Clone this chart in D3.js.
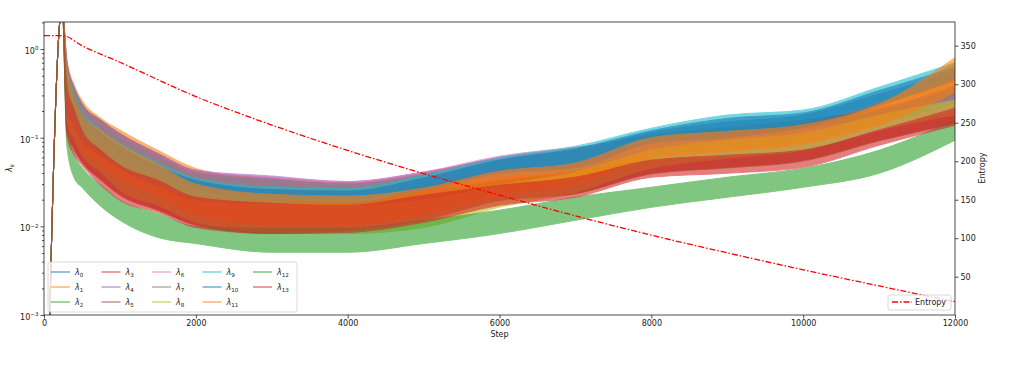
<!DOCTYPE html>
<html><head><meta charset="utf-8">
<script src="https://cdn.jsdelivr.net/npm/d3@7"></script>
<style>body{margin:0;background:#fff} text{font-family:"DejaVu Sans",sans-serif;fill:#222}</style>
</head><body>
<svg id="chart" width="1019" height="369"></svg>
<script>
// ---------- data ----------
const steps = [0,240,300,400,500,750,1000,1500,2000,3000,4000,5000,6000,7000,8000,9000,10000,11000,12000];

const lam0Hi  = [1.2e-6,3,0.50,0.28,0.18,0.11,0.078,0.047,0.032,0.025,0.024,0.034,0.054,0.070,0.115,0.150,0.180,0.310,0.55];
const lam0Lo  = [1.2e-6,3,0.19,0.13,0.09,0.060,0.043,0.028,0.019,0.0175,0.0175,0.024,0.038,0.044,0.082,0.095,0.125,0.220,0.40];
const lam1Hi  = [1.2e-6,3,0.79,0.39,0.265,0.166,0.122,0.072,0.045,0.033,0.028,0.031,0.046,0.056,0.107,0.122,0.146,0.25,0.70];
const lam1Lo  = [1.2e-6,3,0.27,0.16,0.107,0.072,0.049,0.027,0.014,0.011,0.011,0.014,0.024,0.031,0.060,0.072,0.087,0.146,0.30];
const lam2Hi  = [1.2e-6,3,0.42,0.22,0.13,0.078,0.053,0.036,0.0215,0.019,0.0178,0.024,0.033,0.041,0.068,0.082,0.090,0.150,0.235];
const lam2Lo  = [1.2e-6,3,0.125,0.075,0.054,0.034,0.023,0.0155,0.0105,0.0086,0.0092,0.0120,0.0195,0.0232,0.0390,0.0455,0.0545,0.0920,0.145];
const lam3Hi  = [1.2e-6,3,0.446,0.233,0.138,0.0822,0.0557,0.0377,0.0224,0.0197,0.0182,0.0255,0.0358,0.043,0.0723,0.0867,0.095,0.158,0.245];
const lam3Lo  = [1.2e-6,3,0.122,0.0723,0.0529,0.0331,0.0224,0.0152,0.0103,0.0083,0.009,0.0117,0.0197,0.0236,0.0397,0.0464,0.0557,0.0937,0.146];
const lam4Hi  = [1.2e-6,3,0.75,0.37,0.245,0.158,0.112,0.067,0.043,0.037,0.032,0.041,0.058,0.072,0.100,0.120,0.145,0.20,0.36];
const lam4Lo  = [1.2e-6,3,0.27,0.17,0.125,0.084,0.060,0.038,0.026,0.024,0.022,0.027,0.037,0.044,0.066,0.078,0.094,0.15,0.25];
const lam5Hi  = [1.2e-6,3,0.72,0.36,0.24,0.155,0.110,0.065,0.042,0.035,0.031,0.040,0.060,0.076,0.107,0.131,0.158,0.215,0.39];
const lam5Lo  = [1.2e-6,3,0.27,0.17,0.122,0.082,0.059,0.038,0.0255,0.0236,0.0213,0.027,0.038,0.045,0.069,0.082,0.099,0.158,0.265];
const lam6Hi  = [1.2e-6,3,0.70,0.35,0.235,0.152,0.108,0.064,0.042,0.036,0.032,0.041,0.062,0.078,0.095,0.110,0.125,0.17,0.30];
const lam6Lo  = [1.2e-6,3,0.26,0.165,0.12,0.080,0.057,0.037,0.025,0.023,0.021,0.027,0.038,0.044,0.058,0.062,0.075,0.12,0.20];
const lam7Hi  = [1.2e-6,3,0.68,0.34,0.23,0.15,0.105,0.062,0.040,0.034,0.030,0.038,0.055,0.070,0.098,0.120,0.145,0.20,0.36];
const lam7Lo  = [1.2e-6,3,0.25,0.16,0.115,0.078,0.056,0.036,0.024,0.022,0.020,0.026,0.036,0.042,0.064,0.076,0.092,0.145,0.245];
const lam8Hi  = [1.2e-6,3,0.508,0.265,0.166,0.0937,0.0634,0.0408,0.0255,0.0197,0.0173,0.0197,0.0291,0.0408,0.0723,0.0937,0.112,0.18,0.265];
const lam8Lo  = [1.2e-6,3,0.158,0.0937,0.0634,0.0408,0.0255,0.0173,0.0111,0.00855,0.0083,0.0097,0.0164,0.0242,0.0452,0.0587,0.0723,0.122,0.18];
const lam9Hi  = [1.2e-6,3,0.58,0.33,0.205,0.122,0.087,0.052,0.035,0.028,0.027,0.038,0.060,0.080,0.128,0.180,0.205,0.372,0.70];
const lam9Lo  = [1.2e-6,3,0.25,0.16,0.11,0.070,0.050,0.032,0.022,0.020,0.020,0.028,0.043,0.052,0.095,0.115,0.145,0.26,0.48];
const lam10Hi = [1.2e-6,3,0.52,0.30,0.19,0.113,0.080,0.048,0.033,0.026,0.025,0.035,0.056,0.075,0.120,0.165,0.190,0.34,0.62];
const lam10Lo = [1.2e-6,3,0.205,0.138,0.094,0.063,0.045,0.029,0.0197,0.0182,0.0182,0.0255,0.040,0.046,0.087,0.101,0.131,0.233,0.446];
const lam11Hi = [1.2e-6,3,0.60,0.30,0.19,0.12,0.085,0.050,0.030,0.023,0.022,0.027,0.042,0.052,0.100,0.118,0.140,0.24,0.80];
const lam11Lo = [1.2e-6,3,0.20,0.12,0.08,0.050,0.035,0.022,0.0135,0.0105,0.0105,0.0135,0.022,0.030,0.058,0.070,0.085,0.14,0.32];
const lam12Hi = [1.2e-6,3,0.138,0.0634,0.0464,0.0291,0.0197,0.0140,0.0100,0.0095,0.0095,0.0117,0.0152,0.0213,0.0276,0.0358,0.0452,0.0723,0.158];
const lam12Lo = [1.2e-6,3,0.0822,0.0349,0.0276,0.0168,0.0117,0.0075,0.0064,0.0051,0.0051,0.0064,0.0083,0.0117,0.0164,0.0213,0.0276,0.0397,0.0937];
const lam13Hi = [1.2e-6,3,0.392,0.205,0.122,0.0723,0.0489,0.0331,0.0213,0.0182,0.0173,0.0224,0.0291,0.0358,0.0557,0.0634,0.0723,0.122,0.215];
const lam13Lo = [1.2e-6,3,0.107,0.0634,0.0489,0.0291,0.0197,0.0144,0.0097,0.0083,0.00855,0.0111,0.0173,0.0213,0.0358,0.0397,0.0464,0.0822,0.138];

const entropySteps = [0,250,500,1000,2000,3000,4000,5000,6000,7000,8000,9000,10000,11000,12000];
const entropyVals  = [363,363,350,328.5,284,247,214,184,156,129,104,81,59,38,17.5];

const xTicks = [0,2000,4000,6000,8000,10000,12000];
const yTicks = [1e-3,1e-2,1e-1,1];
const yTickExp = ["\u22123","\u22122","\u22121","0"];
const y2Ticks = [50,100,150,200,250,300,350];
const seriesColors = ["#1f77b4","#ff7f0e","#2ca02c","#d62728","#9467bd","#8c564b","#e377c2","#7f7f7f","#bcbd22","#17becf","#1f77b4","#ff7f0e","#2ca02c","#d62728"];
const seriesIdx = ["0","1","2","3","4","5","6","7","8","9","10","11","12","13"];

const los = [lam0Lo,lam1Lo,lam2Lo,lam3Lo,lam4Lo,lam5Lo,lam6Lo,lam7Lo,lam8Lo,lam9Lo,lam10Lo,lam11Lo,lam12Lo,lam13Lo];
const his = [lam0Hi,lam1Hi,lam2Hi,lam3Hi,lam4Hi,lam5Hi,lam6Hi,lam7Hi,lam8Hi,lam9Hi,lam10Hi,lam11Hi,lam12Hi,lam13Hi];

// ---------- drawing ----------
const svg = d3.select("#chart");
const L=44,R=955,T=22,B=315;
const x = d3.scaleLinear().domain([0,12000]).range([L,R]);
const y = d3.scaleLog().domain([1e-3,2.02]).range([B,T]);
const y2 = d3.scaleLinear().domain([0.3,380.8]).range([B,T]);

svg.append("rect").attr("width",1019).attr("height",369).attr("fill","#fff");
svg.append("defs").append("clipPath").attr("id","clip").append("rect")
  .attr("x",L).attr("y",T).attr("width",R-L).attr("height",B-T);
const plot = svg.append("g").attr("clip-path","url(#clip)");

const area = d3.area().x(d=>x(d.s)).y0(d=>y(d.lo)).y1(d=>y(d.hi)).curve(d3.curveMonotoneX);
los.forEach((lo,k)=>{
  const pts = steps.map((st,i)=>({s:st,lo:lo[i],hi:his[k][i]}));
  plot.append("path").datum(pts).attr("d",area)
    .attr("fill",seriesColors[k]).attr("stroke",seriesColors[k]).attr("stroke-width",1)
    .attr("stroke-linejoin","round").attr("opacity",0.6);
});

const eLine = d3.line().x(d=>x(d.s)).y(d=>y2(d.e)).curve(d3.curveMonotoneX);
plot.append("path").datum(entropySteps.map((s,i)=>({s,e:entropyVals[i]})))
  .attr("d",eLine).attr("fill","none").attr("stroke","#ff0000").attr("stroke-width",1.3)
  .attr("stroke-dasharray","6,2,1.5,2");

// axes
const fs = 8;
const gx = svg.append("g").attr("transform",`translate(0,${B})`)
  .call(d3.axisBottom(x).tickValues(xTicks).tickSize(3.5).tickPadding(2).tickFormat(d3.format("d")));
const gyMinor = svg.append("g").attr("transform",`translate(${L},0)`)
  .call(d3.axisLeft(y).tickValues([2,3,4,5,6,7,8,9].flatMap(m=>[m*1e-3,m*1e-2,m*1e-1]).concat([2]).filter(v=>v<=2.02)).tickSize(2).tickFormat(()=>""));
const gy = svg.append("g").attr("transform",`translate(${L},0)`)
  .call(d3.axisLeft(y).tickValues(yTicks).tickSize(3.5).tickPadding(2).tickFormat(()=>""));
gy.selectAll(".tick").each(function(d,i){
  const t = d3.select(this).select("text");
  t.text(null);
  t.append("tspan").text("10");
  t.append("tspan").attr("dy",-3.5).attr("font-size",5.6).text(yTickExp[i]);
  t.attr("dy","0.55em");
});
const gy2 = svg.append("g").attr("transform",`translate(${R},0)`)
  .call(d3.axisRight(y2).tickValues(y2Ticks).tickSize(3.5).tickPadding(2));
[gx,gy,gyMinor,gy2].forEach(g=>{
  g.select(".domain").remove();
  g.selectAll("text").attr("font-size",fs).attr("font-family","DejaVu Sans").attr("fill","#222");
  g.selectAll("line").attr("stroke","#222").attr("stroke-width",0.8);
});
svg.append("rect").attr("x",L).attr("y",T).attr("width",R-L).attr("height",B-T)
  .attr("fill","none").attr("stroke","#222").attr("stroke-width",0.8);

// axis labels
svg.append("text").attr("x",(L+R)/2).attr("y",337).attr("text-anchor","middle").attr("font-size",fs).text("Step");
svg.append("text").attr("transform","translate(985,168) rotate(-90)").attr("text-anchor","middle").attr("font-size",fs).text("Entropy");
const yl = svg.append("text").attr("transform","translate(12,168) rotate(-90)").attr("text-anchor","middle").attr("font-size",fs);
yl.append("tspan").attr("font-style","italic").text("\u03bb");
yl.append("tspan").attr("font-style","italic").attr("font-size",5.6).attr("dy",1.8).text("k");

// legend for lambdas
const lg = svg.append("g");
lg.append("rect").attr("x",48).attr("y",262).attr("width",249).attr("height",50).attr("rx",2)
  .attr("fill","#fff").attr("fill-opacity",0.8).attr("stroke","#d0d0d0").attr("stroke-width",0.8);
seriesIdx.forEach((s,i)=>{
  const col = Math.floor(i/3), row = i%3;
  const lx = 51 + col*50.5, ly = 272 + row*15;
  lg.append("line").attr("x1",lx).attr("x2",lx+19).attr("y1",ly).attr("y2",ly)
    .attr("stroke",seriesColors[i]).attr("stroke-width",1.5).attr("opacity",0.6);
  const t = lg.append("text").attr("x",lx+24).attr("y",ly+3).attr("font-size",fs);
  t.append("tspan").attr("font-style","italic").text("\u03bb");
  t.append("tspan").attr("font-size",5.6).attr("dy",1.8).text(s);
});

// legend for entropy
const lg2 = svg.append("g");
lg2.append("rect").attr("x",888).attr("y",295).attr("width",63).attr("height",15).attr("rx",2)
  .attr("fill","#fff").attr("fill-opacity",0.8).attr("stroke","#d0d0d0").attr("stroke-width",0.8);
lg2.append("line").attr("x1",892).attr("x2",912).attr("y1",302).attr("y2",302)
  .attr("stroke","#ff0000").attr("stroke-width",1.3).attr("stroke-dasharray","6,2,1.5,2");
lg2.append("text").attr("x",915).attr("y",305).attr("font-size",fs).text("Entropy");
</script>
</body></html>
